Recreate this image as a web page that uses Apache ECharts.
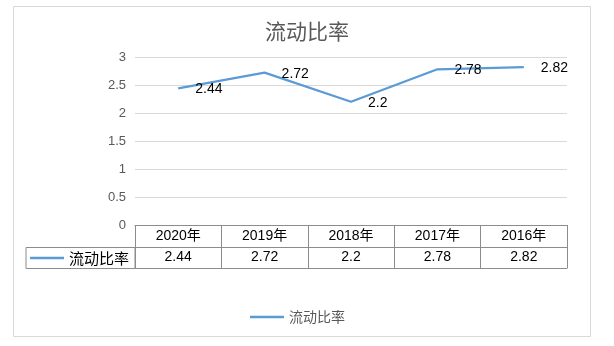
<!DOCTYPE html>
<html><head><meta charset="utf-8">
<script src="https://cdn.jsdelivr.net/npm/echarts@6/dist/echarts.min.js"></script>
<style>html,body{margin:0;padding:0;background:#fff}#c{width:614px;height:346px}</style>
</head><body><div id="c"></div>
<script>
const title = '流动比率';
const seriesName = '流动比率';
const categories = ['2020年','2019年','2018年','2017年','2016年'];
const values = [2.44, 2.72, 2.2, 2.78, 2.82];
const yTicks = { min: 0, max: 3, interval: 0.5 };

const FONT = "'Liberation Sans','Noto Sans CJK SC',sans-serif";
const CJK = "'Noto Sans CJK SC','Liberation Sans',sans-serif";
const LINE = '#5B9BD5';
const TABLE = '#8c8c8c';

const chart = echarts.init(document.getElementById('c'), null, {renderer:'canvas'});
function tableAxis(offset){
  return {
    type:'category', data:categories, gridIndex:0, position:'bottom', offset:offset,
    boundaryGap:true,
    axisLine:{show:true, lineStyle:{color:TABLE, width:1}},
    axisTick:{show:false}, axisLabel:{show:false}, splitLine:{show:false}
  };
}
chart.setOption({
  animation:false,
  title:{text:title, left:'center', top:16,
    textStyle:{fontFamily:CJK, fontSize:21, fontWeight:'normal', color:'#595959'}},
  grid:{left:135, right:47, top:57, bottom:121, containLabel:false},
  legend:{data:[seriesName], left:245, top:305, icon:'rect', itemWidth:34, itemHeight:2.5,
    itemGap:0, textStyle:{fontFamily:CJK, fontSize:14, color:'#595959'}},
  xAxis:[{
    type:'category', data:categories, boundaryGap:true,
    axisLine:{show:true, lineStyle:{color:TABLE, width:1}},
    axisTick:{show:true, interval:0, length:43, inside:false, lineStyle:{color:TABLE}},
    axisLabel:{interval:0, margin:0,
      formatter:function(v, i){ return '{h|' + v + '}\n{v|' + values[i] + '}'; },
      rich:{
        h:{fontFamily:FONT, fontSize:14, color:'#000', lineHeight:22, height:22},
        v:{fontFamily:FONT, fontSize:14, color:'#000', lineHeight:21, height:21}
      }},
    splitLine:{show:false}
  }, tableAxis(22), tableAxis(43)],
  yAxis:{type:'value', min:yTicks.min, max:yTicks.max, interval:yTicks.interval,
    axisLine:{show:false}, axisTick:{show:false},
    axisLabel:{fontFamily:FONT, fontSize:13, color:'#595959', margin:9},
    splitLine:{lineStyle:{color:'#d9d9d9', width:1}}},
  series:[{
    name:seriesName, type:'line', data:values, xAxisIndex:0,
    symbol:'circle', symbolSize:0, showSymbol:true, smooth:false,
    lineStyle:{color:LINE, width:2.25}, itemStyle:{color:LINE},
    label:{show:true, position:'right', distance:17, offset:[0,1], color:'#000',
      fontFamily:FONT, fontSize:14}
  }],
  graphic:[
    {type:'rect', shape:{x:26, y:247.5, width:109, height:21}, style:{fill:'none', stroke:TABLE, lineWidth:1}},
    {type:'line', shape:{x1:30, y1:258, x2:64, y2:258}, style:{stroke:LINE, lineWidth:2.5}},
    {type:'text', x:69, y:258, style:{text:seriesName, fontFamily:CJK, fontSize:15, fill:'#000', textVerticalAlign:'middle'}},
    {type:'rect', shape:{x:13.5, y:6.5, width:577, height:330}, style:{fill:'none', stroke:'#d9d9d9', lineWidth:1}, z:-1}
  ]
});
</script></body></html>
